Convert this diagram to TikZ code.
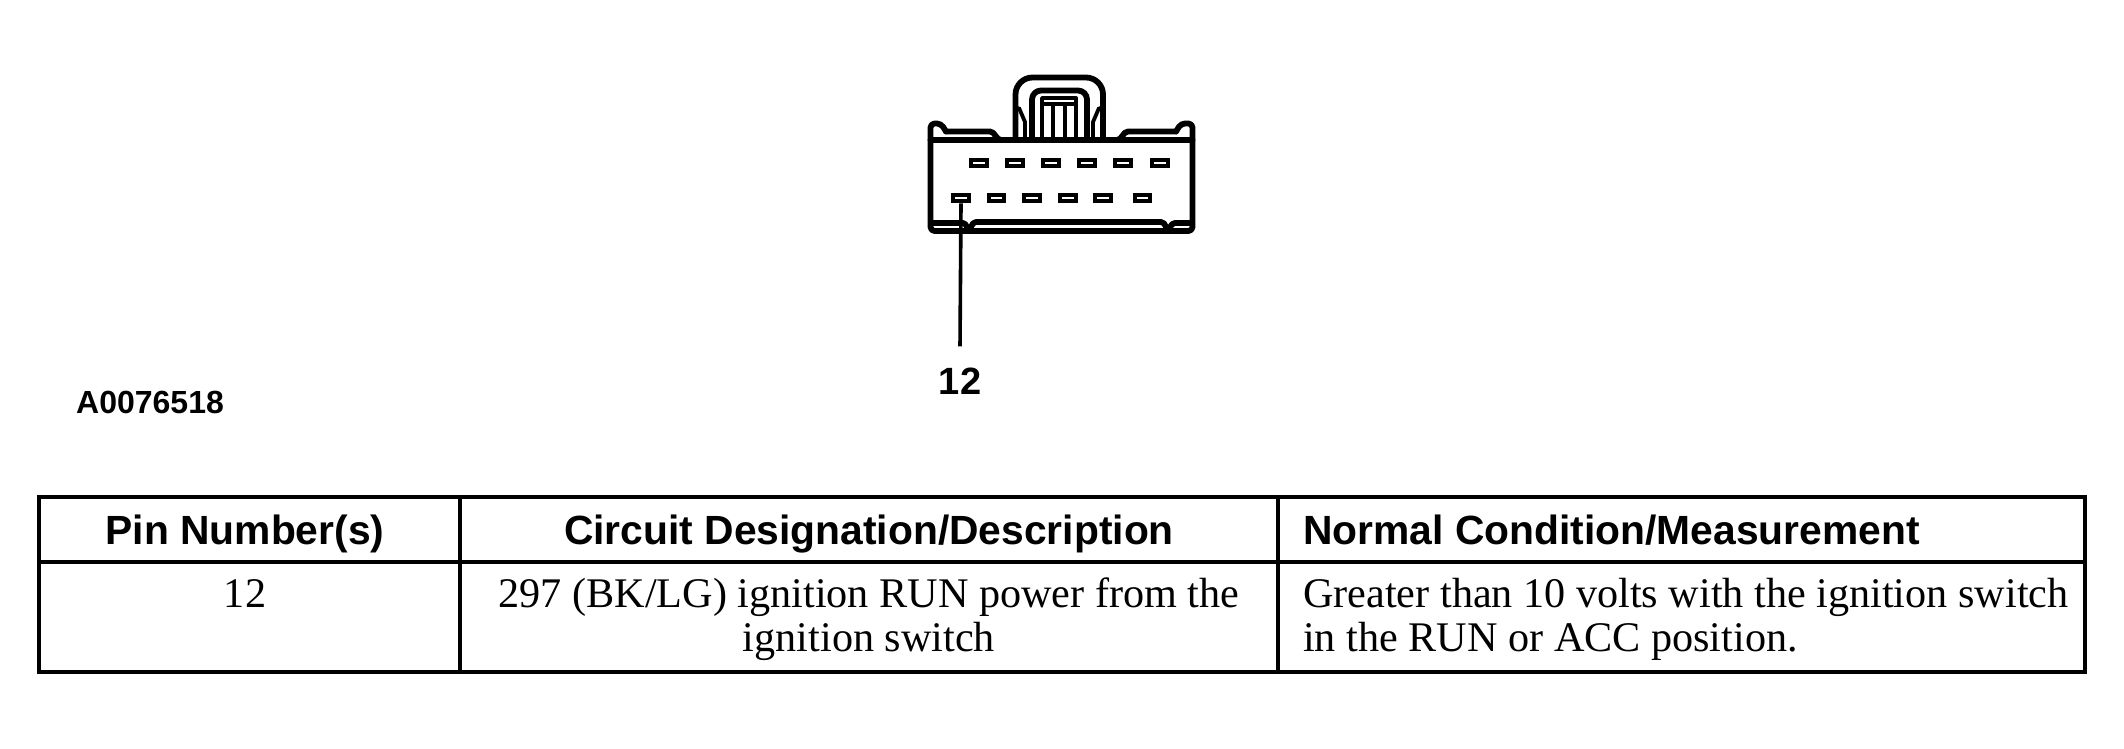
\documentclass[tikz,border=0pt]{standalone}
\usepackage{fontspec}
\setmainfont{Liberation Serif}
\setsansfont{Liberation Sans}
\begin{document}
\begin{tikzpicture}[x=1pt,y=-1pt,
  conn/.style={line width=5.8pt, line join=round, line cap=round},
  connthin/.style={line width=3.8pt, line join=round, line cap=round},
  pinbox/.style={draw, line width=4.3pt, inner sep=0pt, minimum width=15.5pt, minimum height=6.3pt},
  leader/.style={line width=3.6pt},
  tframe/.style={line width=3.5pt},
  ttop/.style={line width=4.3pt},
  hdr/.style={font=\sffamily\bfseries\fontsize{40.8}{44}\selectfont, inner sep=0pt},
  cell/.style={font=\fontsize{42.2}{44}\selectfont, inner sep=0pt},
  figid/.style={font=\sffamily\bfseries\fontsize{32}{34}\selectfont, inner sep=0pt},
  pinlbl/.style={font=\sffamily\bfseries\fontsize{38}{40}\selectfont, inner sep=0pt}
]
\fill[white] (0,0) rectangle (2124,749);
\useasboundingbox (0,0) rectangle (2124,749);

% ---------- connector body ----------
\draw[conn, rounded corners=4pt] (946,131.5) -- (941,123.5) -- (930.5,123.5) -- (930.5,231) -- (1192.5,231) -- (1192.5,123.5) -- (1181,123.5) -- (1176,131.5);
% shoulders
\draw[conn] (946,131.5) -- (990,131.5) .. controls (995,131.5) and (996,140) .. (1001,140) -- (1015.5,140);
\draw[conn] (1176,131.5) -- (1128,131.5) .. controls (1123,131.5) and (1122,140) .. (1117,140) -- (1103,140);
% slot / body top line
\draw[conn] (930.5,140) -- (1192.5,140);
% latch tower
\draw[conn, rounded corners=17pt] (1015.5,140) -- (1015.5,77.5) -- (1103,77.5) -- (1103,140);
\draw[conn, rounded corners=9pt] (1032,140) -- (1032,90.5) -- (1087,90.5) -- (1087,140);
\draw[connthin] (1042,139) -- (1042,98) -- (1076,98) -- (1076,139);
\draw[connthin] (1042,104) -- (1076,104);
\draw[connthin] (1053,104) -- (1053,139);
\draw[connthin] (1065,104) -- (1065,139);
\draw[connthin] (1019,108) -- (1025,122) -- (1025,139);
\draw[connthin] (1099,108) -- (1093,122) -- (1093,139);
% bottom strip with notches
\draw[conn] (933,223) -- (963,223) .. controls (967,223) and (967.5,231) .. (969,231) .. controls (970.5,231) and (971,222) .. (976,222) -- (1161,222) .. controls (1166,222) and (1166.5,231) .. (1168,231) .. controls (1169.5,231) and (1170,223) .. (1175,223) -- (1190,223);

% ---------- pins ----------
\foreach \x [count=\i] in {979,1015,1051,1087,1123,1160}
  \node[pinbox] (t\i) at (\x,163) {};
\foreach \x [count=\i] in {961,996.5,1032,1068,1103,1142.5}
  \node[pinbox] (b\i) at (\x,198) {};

% ---------- pin label ----------
\node[pinlbl, anchor=base] (lbl12) at (960,394) {12};
\draw[leader] (b1.south) -- ([yshift=21pt]lbl12.north);

% ---------- figure id ----------
\node[figid, anchor=base west] (fig) at (76,413) {A0076518};

% ---------- table ----------
\draw[ttop] (37,497) -- (2087,497);
\draw[tframe] (39,497) -- (39,672);
\draw[tframe] (2085,497) -- (2085,672);
\draw[tframe] (37,672) -- (2087,672);
\draw[tframe] (39,562) -- (2085,562);
\draw[tframe] (460,497) -- (460,672);
\draw[tframe] (1278,497) -- (1278,672);

\node[hdr, anchor=base] (h1) at (245,544) {Pin Number(s)};
\node[hdr, anchor=base] (h2) at (869,544) {Circuit Designation/Description};
\node[hdr, anchor=base west] (h3) at (1303,544) {Normal Condition/Measurement};

\node[cell, anchor=base] (c1) at (245,607) {12};
\node[cell, anchor=base] (c2a) at (869,607) {297 (BK/LG) ignition RUN power from the};
\node[cell, anchor=base] (c2b) at (869,651) {ignition switch};
\node[cell, anchor=base west] (c3a) at (1303,607) {Greater than 10 volts with the ignition switch};
\node[cell, anchor=base west] (c3b) at (1303,651) {in the RUN or ACC position.};
\end{tikzpicture}
\end{document}
